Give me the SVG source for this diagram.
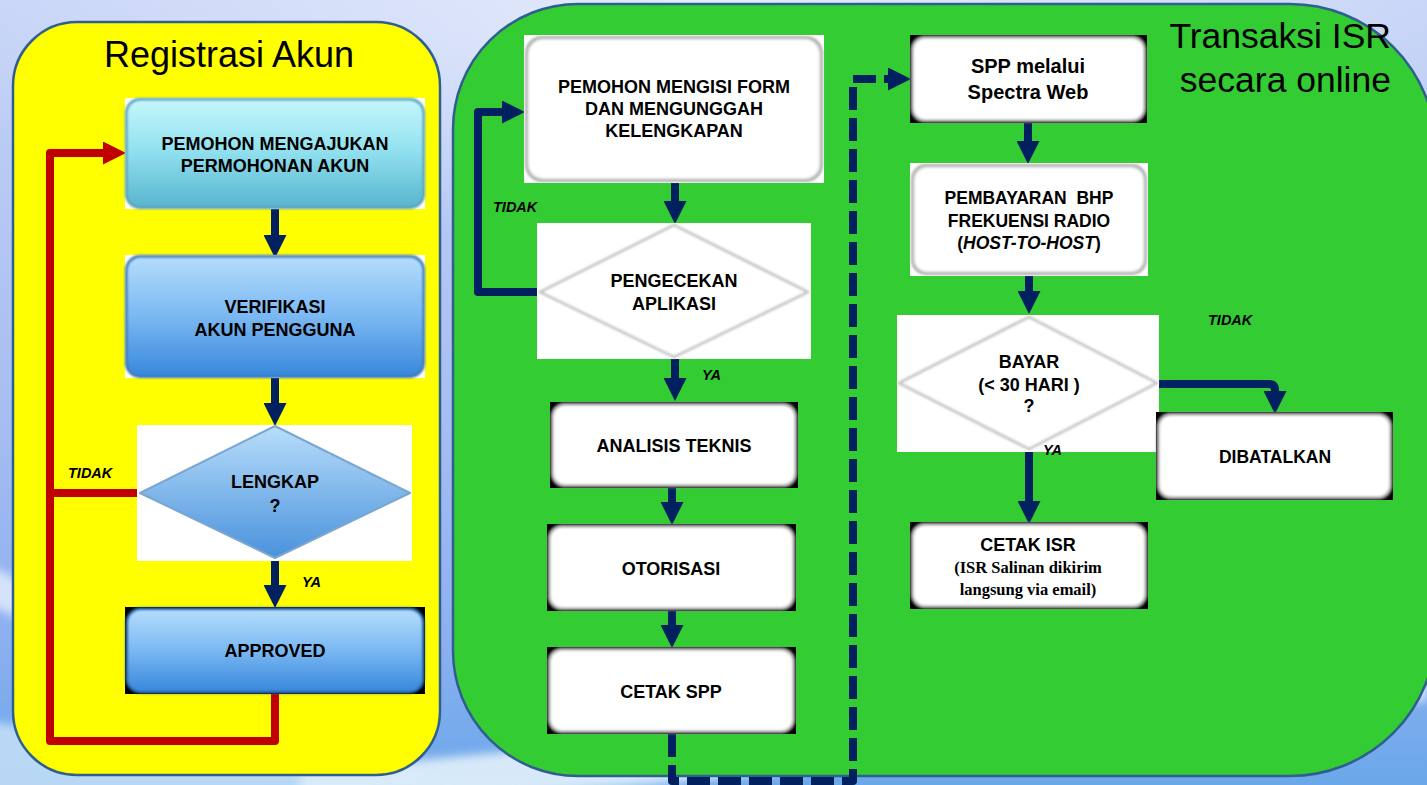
<svg xmlns="http://www.w3.org/2000/svg" width="1427" height="785" viewBox="0 0 1427 785">
  <defs>
    <style>
      .title { font-family: "Liberation Sans", Arial, sans-serif; font-size: 36px; fill: #000; }
      .lbl { font-family: "Liberation Sans", Arial, sans-serif; font-size: 18px; font-weight: bold; fill: #000; text-anchor: middle; white-space: pre; }
      .serif { font-family: "Liberation Serif", "Times New Roman", serif; font-size: 16.5px; font-weight: bold; fill: #000; text-anchor: middle; }
      .cond { font-family: "Liberation Sans", Arial, sans-serif; font-size: 14.5px; font-weight: bold; font-style: italic; fill: #000; }
      .navy { fill: none; stroke: #002060; stroke-width: 8; stroke-linejoin: round; }
      .red { fill: none; stroke: #c00000; stroke-width: 8; stroke-linejoin: round; }
      .panel { stroke: #2f5f8f; stroke-width: 2.5; }
      .edge { fill: #8a8a8a; filter: url(#soft); }
      .face { fill: #ffffff; filter: url(#soft2); }
    </style>
    <linearGradient id="bg" x1="0" y1="0" x2="0" y2="1">
      <stop offset="0" stop-color="#c4d2f6"/>
      <stop offset="0.5" stop-color="#a9bff2"/>
      <stop offset="0.8" stop-color="#8fb0f0"/>
      <stop offset="1" stop-color="#6aa8ea"/>
    </linearGradient>
    <radialGradient id="glow" cx="0.5" cy="0" r="0.6">
      <stop offset="0" stop-color="#e8eefc" stop-opacity="0.9"/>
      <stop offset="1" stop-color="#e8eefc" stop-opacity="0"/>
    </radialGradient>
    <linearGradient id="cyan" x1="0" y1="0" x2="0" y2="1">
      <stop offset="0" stop-color="#c4f6fc"/>
      <stop offset="0.45" stop-color="#94e2f0"/>
      <stop offset="1" stop-color="#58b6cf"/>
    </linearGradient>
    <linearGradient id="blue" x1="0" y1="0" x2="0" y2="1">
      <stop offset="0" stop-color="#b4dcfc"/>
      <stop offset="0.5" stop-color="#7ab8f2"/>
      <stop offset="1" stop-color="#3a88dc"/>
    </linearGradient>
    <linearGradient id="bluediam" x1="0" y1="0" x2="0" y2="1">
      <stop offset="0" stop-color="#b8ddfa"/>
      <stop offset="1" stop-color="#4a92dc"/>
    </linearGradient>
    <filter id="soft" x="-5%" y="-5%" width="110%" height="110%">
      <feGaussianBlur stdDeviation="1.2"/>
    </filter>
    <filter id="soft2" x="-5%" y="-5%" width="110%" height="110%">
      <feGaussianBlur stdDeviation="1.8"/>
    </filter>
    <filter id="haze" x="-20%" y="-50%" width="140%" height="200%">
      <feGaussianBlur stdDeviation="5"/>
    </filter>
    <marker id="headNavy" markerUnits="userSpaceOnUse" markerWidth="23" markerHeight="23" refX="11" refY="11.5" orient="auto">
      <path d="M0,0 L23,11.5 L0,23 Z" fill="#002060"/>
    </marker>
    <marker id="headRed" markerUnits="userSpaceOnUse" markerWidth="23" markerHeight="23" refX="11" refY="11.5" orient="auto">
      <path d="M0,0 L23,11.5 L0,23 Z" fill="#c00000"/>
    </marker>
  </defs>

  <!-- page background with soft swooshes at the bottom -->
  <rect x="0" y="0" width="1427" height="785" fill="url(#bg)"/>
  <rect x="0" y="0" width="1427" height="400" fill="url(#glow)"/>
  <path d="M-20,560 Q120,640 420,700 L420,725 Q140,680 -20,600 Z" fill="#e6eefc" opacity="0.8" filter="url(#haze)"/>
  <path d="M300,770 Q800,730 1427,640 L1427,700 Q800,790 300,800 Z" fill="#eaf4fc" opacity="0.85" filter="url(#haze)"/>
  <path d="M-20,720 Q300,770 700,785 L-20,800 Z" fill="#d8ecfa" opacity="0.7" filter="url(#haze)"/>

  <!-- panels -->
  <g id="panel-registrasi">
    <rect class="panel" x="13" y="22" width="427" height="753" rx="64" fill="#ffff00"/>
    <text class="title" x="229" y="67" text-anchor="middle">Registrasi Akun</text>
  </g>
  <g id="panel-transaksi">
    <path class="panel" fill="#33cc33" d="M578,4 H1290 A146,146 0 0 1 1436,150 V630 A146,146 0 0 1 1290,776 H578 A125,125 0 0 1 453,651 V129 A125,125 0 0 1 578,4 Z"/>
    <text class="title" x="1391" y="48" text-anchor="end" style="font-size:35.5px">Transaksi ISR</text>
    <text class="title" x="1391" y="92" text-anchor="end" style="font-size:35.5px">secara online</text>
  </g>

  <!-- connectors -->
  <g id="connectors">
    <path class="navy" d="M275,209 V246" marker-end="url(#headNavy)"/>
    <path class="navy" d="M275,378 V414" marker-end="url(#headNavy)"/>
    <path class="navy" d="M275,558 V596" marker-end="url(#headNavy)"/>
    <path class="red" d="M275,694 V741 H50 V153 H114" marker-end="url(#headRed)"/>
    <path class="red" d="M141,493 H50"/>

    <path class="navy" d="M675,183 V212" marker-end="url(#headNavy)"/>
    <path class="navy" d="M540,292 H478 V112 H513" marker-end="url(#headNavy)"/>
    <path class="navy" d="M675,356 V389" marker-end="url(#headNavy)"/>
    <path class="navy" d="M672,488 V513" marker-end="url(#headNavy)"/>
    <path class="navy" d="M672,611 V636" marker-end="url(#headNavy)"/>
    <path class="navy" d="M672,734 V781 H853 V79 H899" stroke-dasharray="23 8" stroke-linejoin="miter" marker-end="url(#headNavy)"/>

    <path class="navy" d="M1028,123 V152" marker-end="url(#headNavy)"/>
    <path class="navy" d="M1029,276 V302" marker-end="url(#headNavy)"/>
    <path class="navy" d="M1029,449 V512" marker-end="url(#headNavy)"/>
    <path class="navy" d="M1158,384 H1269 Q1275,384 1275,390 V402" marker-end="url(#headNavy)"/>
  </g>

  <!-- Registrasi Akun nodes -->
  <g id="node-ajukan">
    <rect x="125" y="98" width="300" height="111" fill="#ffffff"/>
    <rect x="125" y="98" width="300" height="111" rx="15" fill="#5aa0b8" filter="url(#soft)"/>
    <rect x="127.5" y="100.5" width="295" height="106" rx="13" fill="url(#cyan)" filter="url(#soft)"/>
    <text class="lbl" x="275" y="150">PEMOHON MENGAJUKAN</text>
    <text class="lbl" x="275" y="172">PERMOHONAN AKUN</text>
  </g>
  <g id="node-verifikasi">
    <rect x="125" y="255" width="300" height="123" fill="#ffffff"/>
    <rect x="125" y="255" width="300" height="123" rx="15" fill="#3a78b8" filter="url(#soft)"/>
    <rect x="127.5" y="257.5" width="295" height="118" rx="13" fill="url(#blue)" filter="url(#soft)"/>
    <text class="lbl" x="275" y="313">VERIFIKASI</text>
    <text class="lbl" x="275" y="336">AKUN PENGGUNA</text>
  </g>
  <g id="node-lengkap">
    <rect x="137" y="425" width="275" height="136" fill="#ffffff"/>
    <polygon points="275,426 410,493 275,558 140,493" fill="url(#bluediam)" stroke="#7aa6d0" stroke-width="2" stroke-linejoin="round"/>
    <text class="lbl" x="275" y="488">LENGKAP</text>
    <text class="lbl" x="275" y="512">?</text>
  </g>
  <g id="node-approved">
    <rect x="125" y="607" width="300" height="87" fill="#000000"/>
    <rect x="125.5" y="607.5" width="299" height="86" rx="15" fill="#2a6ab0" filter="url(#soft)"/>
    <rect x="128" y="610" width="294" height="81" rx="13" fill="url(#blue)" filter="url(#soft)"/>
    <text class="lbl" x="275" y="657">APPROVED</text>
  </g>

  <!-- Transaksi ISR nodes -->
  <g id="node-isi-form">
    <rect x="524" y="35" width="300" height="148" fill="#ffffff"/>
    <rect class="edge" x="525" y="36" width="298" height="146" rx="17" style="fill:#b0b0b0"/>
    <rect class="face" x="528" y="39" width="292" height="140" rx="15"/>
    <text class="lbl" x="674" y="93">PEMOHON MENGISI FORM</text>
    <text class="lbl" x="674" y="115">DAN MENGUNGGAH</text>
    <text class="lbl" x="674" y="137">KELENGKAPAN</text>
  </g>
  <g id="node-pengecekan">
    <rect x="537" y="223" width="274" height="136" fill="#ffffff"/>
    <polygon points="674,225 808,292 674,357 540,292" fill="#ffffff" stroke="#c8c8c8" stroke-width="3" stroke-linejoin="round" filter="url(#soft)"/>
    <text class="lbl" x="674" y="287">PENGECEKAN</text>
    <text class="lbl" x="674" y="310">APLIKASI</text>
  </g>
  <g id="node-analisis">
    <rect x="550" y="402" width="248" height="86" fill="#000000"/>
    <rect class="edge" x="550.5" y="402.5" width="247" height="85" rx="14"/>
    <rect class="face" x="553" y="405" width="242" height="80" rx="12"/>
    <text class="lbl" x="674" y="452">ANALISIS TEKNIS</text>
  </g>
  <g id="node-otorisasi">
    <rect x="547" y="524" width="249" height="87" fill="#000000"/>
    <rect class="edge" x="547.5" y="524.5" width="248" height="86" rx="14"/>
    <rect class="face" x="550" y="527" width="243" height="81" rx="12"/>
    <text class="lbl" x="671" y="575">OTORISASI</text>
  </g>
  <g id="node-cetak-spp">
    <rect x="547" y="647" width="249" height="87" fill="#000000"/>
    <rect class="edge" x="547.5" y="647.5" width="248" height="86" rx="14"/>
    <rect class="face" x="550" y="650" width="243" height="81" rx="12"/>
    <text class="lbl" x="671" y="698">CETAK SPP</text>
  </g>
  <g id="node-spp-web">
    <rect x="910" y="35" width="237" height="88" fill="#000000"/>
    <rect class="edge" x="910.5" y="35.5" width="236" height="87" rx="14"/>
    <rect class="face" x="913" y="38" width="231" height="82" rx="12"/>
    <text class="lbl" x="1028" y="73" style="font-size:20px">SPP melalui</text>
    <text class="lbl" x="1028" y="99" style="font-size:20px">Spectra Web</text>
  </g>
  <g id="node-pembayaran">
    <rect x="910" y="163" width="238" height="113" fill="#ffffff"/>
    <rect class="edge" x="911" y="164" width="236" height="111" rx="15" style="fill:#b0b0b0"/>
    <rect class="face" x="914" y="167" width="230" height="105" rx="13"/>
    <text class="lbl" x="1029" y="204" style="font-size:17.5px">PEMBAYARAN  BHP</text>
    <text class="lbl" x="1029" y="227" style="font-size:17.5px">FREKUENSI RADIO</text>
    <text class="lbl" x="1029" y="249" style="font-size:17.5px">(<tspan font-style="italic">HOST-TO-HOST</tspan>)</text>
  </g>
  <g id="node-bayar">
    <rect x="897" y="315" width="262" height="137" fill="#ffffff"/>
    <polygon points="1029,317 1157,383 1029,449 899,383" fill="#ffffff" stroke="#c8c8c8" stroke-width="3" stroke-linejoin="round" filter="url(#soft)"/>
    <text class="lbl" x="1029" y="368">BAYAR</text>
    <text class="lbl" x="1029" y="391">(&lt; 30 HARI )</text>
    <text class="lbl" x="1029" y="412">?</text>
  </g>
  <g id="node-dibatalkan">
    <rect x="1156" y="412" width="237" height="88" fill="#000000"/>
    <rect class="edge" x="1156.5" y="412.5" width="236" height="87" rx="14"/>
    <rect class="face" x="1159" y="415" width="231" height="82" rx="12"/>
    <text class="lbl" x="1275" y="463" style="font-size:17.5px">DIBATALKAN</text>
  </g>
  <g id="node-cetak-isr">
    <rect x="910" y="522" width="238" height="87" fill="#000000"/>
    <rect class="edge" x="910.5" y="522.5" width="237" height="86" rx="14"/>
    <rect class="face" x="913" y="525" width="232" height="81" rx="12"/>
    <text class="lbl" x="1028" y="551">CETAK ISR</text>
    <text class="serif" x="1028" y="573">(ISR Salinan dikirim</text>
    <text class="serif" x="1028" y="595">langsung via email)</text>
  </g>

  <!-- condition labels, drawn last so they sit above node backgrounds -->
  <g id="condition-labels">
    <text class="cond" x="68" y="478">TIDAK</text>
    <text class="cond" x="302" y="587">YA</text>
    <text class="cond" x="493" y="212">TIDAK</text>
    <text class="cond" x="702" y="380">YA</text>
    <text class="cond" x="1208" y="325">TIDAK</text>
    <text class="cond" x="1043" y="455">YA</text>
  </g>
</svg>
